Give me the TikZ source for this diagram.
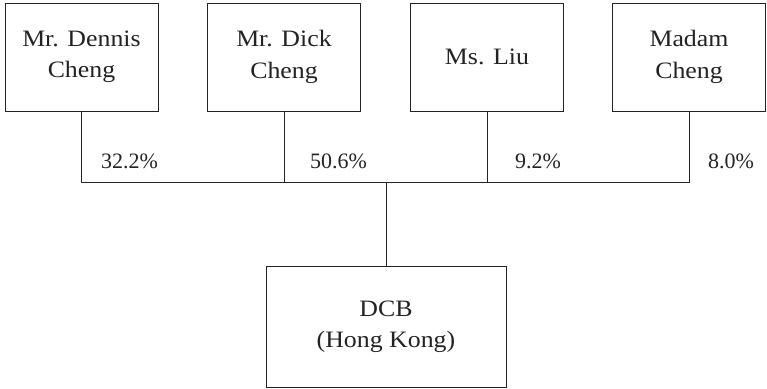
\documentclass[tikz,border=0pt]{standalone}
\usepackage{fontspec}
\setmainfont{Liberation Serif}
\newfontfamily\boxfont{Liberation Serif}[FakeStretch=1.1]
\usepackage{tikz}
\usetikzlibrary{calc, positioning}
\definecolor{ink}{RGB}{35,35,35}

\begin{document}
\begin{tikzpicture}[x=1pt, y=-1pt]
			\tikzstyle{holder}=[draw=ink, line width=0.9pt, text=ink, minimum width=153pt, minimum height=108pt, inner sep=0pt, align=center, font=\boxfont\fontsize{23.5}{31.5}\selectfont]
			\tikzstyle{company}=[holder, minimum width=240pt, minimum height=121pt]
			\tikzstyle{share}=[text=ink, inner sep=0pt, anchor=base west, font=\fontsize{22}{26}\selectfont]
			\tikzstyle{link}=[draw=ink, line width=0.9pt]
			\def\top{57};
			\def\bus{182};

			\useasboundingbox (0,0) rectangle (767,388);

			\begin{scope}
				\node [holder] (dennis) at (81.5,\top) {Mr. Dennis\\Cheng};
				\node [holder] (dick) at (284,\top) {Mr. Dick\\Cheng};
				\node [holder] (liu) at (487,\top) {Ms. Liu};
				\node [holder] (madam) at (689,\top) {Madam\\Cheng};
			\end{scope}

			\begin{scope}
				\node [company] (dcb) at (386,326.5) {DCB\\(Hong Kong)};
				\coordinate (bus) at (386,\bus);
			\end{scope}

			\begin{scope}
				\draw [link] (dennis.south) -- (dennis.south |- bus) -- (madam.south |- bus) -- (madam.south);
				\draw [link] (dick.south) -- (dick.south |- bus);
				\draw [link] (liu.south) -- (liu.south |- bus);
				\draw [link] (dcb.north) -- (bus);
			\end{scope}

			\begin{scope}
				\node [share] (p1) at (101,168) {32.2\%};
				\node [share] (p2) at (310,168) {50.6\%};
				\node [share] (p3) at (515,168) {9.2\%};
				\node [share] (p4) at (708,168) {8.0\%};
			\end{scope}
		\end{tikzpicture}
\end{document}
